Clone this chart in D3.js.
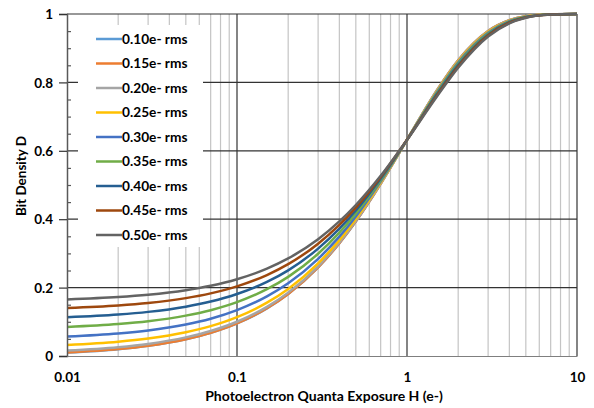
<!DOCTYPE html>
<html><head><meta charset="utf-8">
<script src="https://cdn.jsdelivr.net/npm/d3@7"></script>
<style>
body{margin:0;background:#fff;}
svg text{font-family:Lato,"Open Sans",sans-serif;font-weight:bold;fill:#000;}
</style></head>
<body><svg id="c" width="594" height="408"></svg>
<script>
const exposure = [0.01,0.02,0.03,0.05,0.07,0.1,0.15,0.2,0.3,0.4,0.5,0.7,1,1.5,2,3,4,5,7,10];
const seriesNames = ["0.10e- rms","0.15e- rms","0.20e- rms","0.25e- rms","0.30e- rms","0.35e- rms","0.40e- rms","0.45e- rms","0.50e- rms"];
const seriesColors = ["#5B9BD5","#ED7D31","#A5A5A5","#FFC000","#4472C4","#70AD47","#255E91","#9E480E","#636363"];
const s010 = [0.0100,0.0198,0.0296,0.0488,0.0676,0.0952,0.1393,0.1813,0.2592,0.3297,0.3935,0.5034,0.6321,0.7769,0.8647,0.9502,0.9817,0.9933,0.9991,0.9999];
const s015 = [0.0104,0.0202,0.0300,0.0492,0.0680,0.0955,0.1396,0.1815,0.2594,0.3299,0.3936,0.5035,0.6321,0.7768,0.8646,0.9502,0.9817,0.9933,0.9991,0.9999];
const s020 = [0.0160,0.0258,0.0354,0.0544,0.0730,0.1002,0.1438,0.1853,0.2624,0.3322,0.3954,0.5043,0.6321,0.7762,0.8638,0.9496,0.9813,0.9931,0.9991,0.9999];
const s025 = [0.0322,0.0417,0.0510,0.0693,0.0873,0.1137,0.1559,0.1962,0.2710,0.3388,0.4004,0.5068,0.6321,0.7743,0.8616,0.9479,0.9804,0.9926,0.9990,0.9999];
const s030 = [0.0568,0.0657,0.0745,0.0920,0.1090,0.1341,0.1743,0.2126,0.2840,0.3489,0.4080,0.5105,0.6321,0.7715,0.8582,0.9455,0.9791,0.9920,0.9988,0.9999];
const s035 = [0.0850,0.0934,0.1016,0.1180,0.1340,0.1575,0.1953,0.2314,0.2989,0.3605,0.4167,0.5148,0.6321,0.7683,0.8543,0.9426,0.9775,0.9912,0.9987,0.9999];
const s040 = [0.1135,0.1213,0.1290,0.1442,0.1592,0.1812,0.2166,0.2505,0.3140,0.3722,0.4255,0.5192,0.6321,0.7651,0.8504,0.9397,0.9759,0.9904,0.9985,0.9999];
const s045 = [0.1406,0.1478,0.1550,0.1692,0.1832,0.2037,0.2368,0.2686,0.3283,0.3833,0.4339,0.5233,0.6321,0.7620,0.8466,0.9369,0.9744,0.9897,0.9984,0.9999];
const s050 = [0.1655,0.1722,0.1789,0.1921,0.2052,0.2244,0.2554,0.2852,0.3414,0.3934,0.4415,0.5269,0.6319,0.7588,0.8428,0.9341,0.9728,0.9889,0.9982,0.9999];
const seriesValues = [s010,s015,s020,s025,s030,s035,s040,s045,s050];
const xTickValues = [0.01,0.1,1,10];
const xTickLabels = ["0.01","0.1","1","10"];
const yTickValues = [0,0.2,0.4,0.6,0.8,1];
const yTickLabels = ["0","0.2","0.4","0.6","0.8","1"];
const xTitle = "Photoelectron Quanta Exposure H (e-)";
const yTitle = "Bit Density D";

const svg = d3.select("#c");
const L=67,R=577,T=14,B=356;
const x = d3.scaleLog().domain([0.01,10]).range([L,R]);
const y = d3.scaleLinear().domain([0,1]).range([B,T]);

// minor vertical gridlines
const minor=[];
[0.01,0.1,1].forEach(d=>{for(let k=2;k<=9;k++) minor.push(+(d*k).toPrecision(3));});
svg.append("g").selectAll("line").data(minor).join("line")
  .attr("x1",d=>x(d)).attr("x2",d=>x(d)).attr("y1",T).attr("y2",B)
  .attr("stroke","#c4c4c4").attr("stroke-width",1.2);
// major vertical
svg.append("g").selectAll("line").data(xTickValues.slice(1)).join("line")
  .attr("x1",d=>x(d)).attr("x2",d=>x(d)).attr("y1",T).attr("y2",B)
  .attr("stroke","#333").attr("stroke-width",1.2);
// major horizontal
svg.append("g").selectAll("line").data(yTickValues.slice(1)).join("line")
  .attr("x1",L).attr("x2",R).attr("y1",d=>y(d)).attr("y2",d=>y(d))
  .attr("stroke","#333").attr("stroke-width",1.2);

// curves
const line = d3.line().x((d,i)=>x(exposure[i])).y(d=>y(d)).curve(d3.curveMonotoneX);
svg.append("g").selectAll("path").data(seriesValues).join("path")
  .attr("d",line).attr("fill","none")
  .attr("stroke",(d,i)=>seriesColors[i]).attr("stroke-width",2.5);

// axes
const yAxis = d3.axisLeft(y).tickValues(yTickValues).tickFormat((d,i)=>yTickLabels[i]).tickSize(8).tickPadding(6);
const gy = svg.append("g").attr("transform",`translate(${L},0)`).call(yAxis);
gy.select(".domain").attr("stroke","#595959").attr("stroke-width",1.5);
gy.selectAll(".tick line").attr("stroke","#333").attr("stroke-width",1.2);
gy.selectAll("text").attr("font-size",13.5).attr("font-family","Lato").attr("font-weight","bold").attr("dy","0.35em");
const yMinor = d3.axisLeft(y).tickValues(d3.range(1,20).map(i=>i*0.05).filter(v=>Math.abs(v*5-Math.round(v*5))>1e-6)).tickSize(-4).tickFormat("");
const gym = svg.append("g").attr("transform",`translate(${L},0)`).call(yMinor);
gym.select(".domain").remove();
gym.selectAll(".tick line").attr("stroke","#595959").attr("stroke-width",1.2);

const xAxis = d3.axisBottom(x).tickValues(xTickValues).tickFormat((d,i)=>xTickLabels[i]).tickSize(0).tickPadding(16);
const gx = svg.append("g").attr("transform",`translate(0,${B})`).call(xAxis);
gx.select(".domain").attr("stroke","#7f7f7f").attr("stroke-width",1.2);
gx.selectAll("text").attr("font-size",13.5).attr("font-family","Lato").attr("font-weight","bold");

// titles
svg.append("text").attr("x",324).attr("y",401).attr("text-anchor","middle").attr("font-size",14).text(xTitle);
svg.append("text").attr("transform","translate(26,176) rotate(-90)").attr("text-anchor","middle").attr("font-size",13.5).text(yTitle);

// legend
const lg = svg.append("g");
lg.append("rect").attr("x",78).attr("y",25).attr("width",125).attr("height",222).attr("fill","#fff");
const rows = lg.selectAll("g.row").data(seriesNames).join("g").attr("class","row")
  .attr("transform",(d,i)=>`translate(0,${39+i*24.5})`);
rows.append("line").attr("x1",96).attr("x2",122).attr("y1",0).attr("y2",0)
  .attr("stroke",(d,i)=>seriesColors[i]).attr("stroke-width",2.5);
rows.append("text").attr("x",122).attr("y",0).attr("dy","0.36em").attr("font-size",13.7).text(d=>d);
</script></body></html>
